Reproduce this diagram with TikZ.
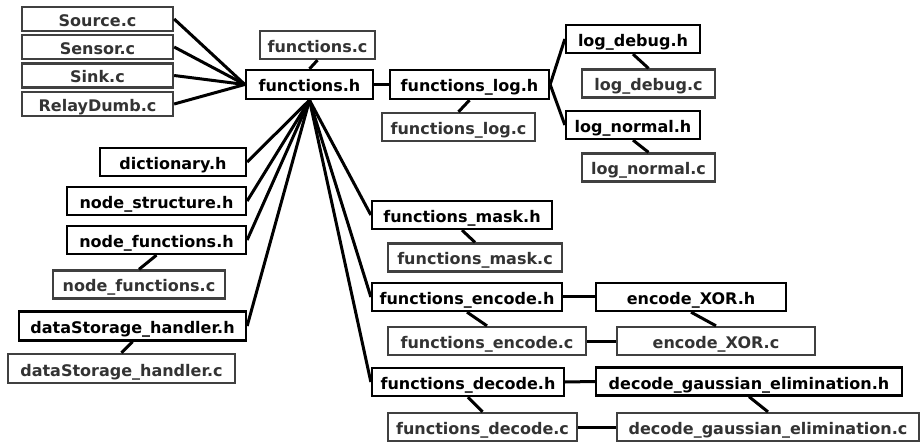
\documentclass[tikz,border=0pt]{standalone}
\usepackage{fontspec}
\setmainfont{DejaVu Sans}
\definecolor{ctext}{RGB}{51,51,51}
\definecolor{cborder}{RGB}{64,64,64}
\tikzset{
  every node/.style={font=\fontsize{16pt}{18pt}\selectfont\bfseries, inner sep=0pt, text height=15.5pt, text depth=0.5pt},
  hfile/.style={draw=black, line width=2.3pt, text=black, fill=white},
  cfile/.style={draw=cborder, line width=2.3pt, text=ctext, fill=white},
  link/.style={line width=3pt, black},
}
\newcommand{\bx}[6]{\node[#1, minimum width=#4pt, minimum height=#5pt] (#2) at (#3) {#6};}
\begin{document}
\begin{tikzpicture}[x=1pt,y=-1pt]
\useasboundingbox (0,0) rectangle (920,443);
% left .c files
\bx{cfile}{src}{97.5,19}{151}{24}{Source.c}
\bx{cfile}{sen}{97.5,47}{151}{24}{Sensor.c}
\bx{cfile}{snk}{97.5,75.5}{151}{24}{Sink.c}
\bx{cfile}{rel}{97.5,104}{151}{24}{RelayDumb.c}
% functions
\bx{cfile}{fc}{317.5,45}{115}{28}{functions.c}
\bx{hfile}{fh}{309.5,84.5}{127}{29}{functions.h}
% log
\bx{hfile}{flh}{469.5,84.5}{159}{29}{functions\_log.h}
\bx{cfile}{flc}{458.5,127}{153}{28}{functions\_log.c}
\bx{hfile}{ldh}{633,39}{134}{28}{log\_debug.h}
\bx{cfile}{ldc}{648.5,83.5}{133}{28}{log\_debug.c}
\bx{hfile}{lnh}{633,125}{134}{28}{log\_normal.h}
\bx{cfile}{lnc}{648.5,167.5}{133}{28}{log\_normal.c}
% left .h
\bx{hfile}{dic}{173,162}{146}{28}{dictionary.h}
\bx{hfile}{nsh}{156.5,201}{179}{28}{node\_structure.h}
\bx{hfile}{nfh}{156.5,240}{179}{28}{node\_functions.h}
\bx{cfile}{nfc}{139,284.5}{172}{28}{node\_functions.c}
\bx{hfile}{dsh}{132.5,326}{227}{29}{dataStorage\_handler.h}
\bx{cfile}{dsc}{121.5,368.5}{227}{29}{dataStorage\_handler.c}
% mask / encode / decode
\bx{hfile}{fmh}{462,215}{180}{28}{functions\_mask.h}
\bx{cfile}{fmc}{475,257.5}{174}{28}{functions\_mask.c}
\bx{hfile}{feh}{467,297}{190}{28}{functions\_encode.h}
\bx{hfile}{exh}{691,297}{190}{28}{encode\_XOR.h}
\bx{cfile}{fec}{487,341}{198}{28}{functions\_encode.c}
\bx{cfile}{exc}{716,341}{198}{28}{encode\_XOR.c}
\bx{hfile}{fdh}{468,382}{192}{28}{functions\_decode.h}
\bx{hfile}{dgh}{749,381.5}{306}{28}{decode\_gaussian\_elimination.h}
\bx{cfile}{fdc}{482.5,427}{189}{28}{functions\_decode.c}
\bx{cfile}{dgc}{768,427}{302}{28}{decode\_gaussian\_elimination.c}
% connectors
\foreach \n in {src,sen,snk,rel} \draw[link] (\n.east) -- (fh.west);
\draw[link] (fc.south) -- (fh.north);
\draw[link] (fh.east) -- (flh.west);
\draw[link] (flh.south) -- (flc.north);
\draw[link] (flh.east) -- (ldh.west);
\draw[link] (flh.east) -- (lnh.west);
\draw[link] (ldh.south) -- (ldc.north);
\draw[link] (lnh.south) -- (lnc.north);
\foreach \n in {dic,nsh,nfh,dsh} \draw[link] (fh.south) -- (\n.east);
\foreach \n in {fmh,feh,fdh} \draw[link] (fh.south) -- (\n.west);
\draw[link] (nfh.south) -- (nfc.north);
\draw[link] (dsh.south) -- (dsc.north);
\draw[link] (fmh.south) -- (fmc.north);
\draw[link] (feh.south) -- (fec.north);
\draw[link] (exh.south) -- (exc.north);
\draw[link] (feh.east) -- (exh.west);
\draw[link] (fec.east) -- (exc.west);
\draw[link] (fdh.east) -- (dgh.west);
\draw[link] (fdh.south) -- (fdc.north);
\draw[link] (dgh.south) -- (dgc.north);
\draw[link] (fdc.east) -- (dgc.west);
\end{tikzpicture}
\end{document}
